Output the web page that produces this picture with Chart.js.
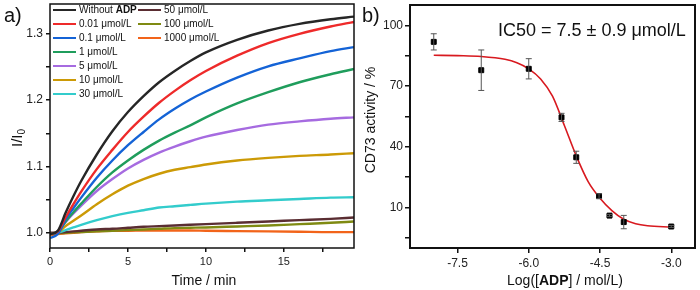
<!DOCTYPE html>
<html>
<head>
<meta charset="utf-8">
<script src="https://cdn.jsdelivr.net/npm/chart.js@4.4.1/dist/chart.umd.min.js"></script>
<style>
  body { margin: 0; background: #fff; }
  #wrap { position: relative; width: 700px; height: 290px; }
  canvas { position: absolute; top: 0; }
</style>
</head>
<body>
<div id="wrap">
  <canvas id="kinChart" width="362" height="290" style="left:0"></canvas>
  <canvas id="icChart" width="338" height="290" style="left:362px"></canvas>
</div>
<script>
// ================= PANEL A DATA (I/I0 vs time) =================
const TIME = [0, 0.5, 1, 1.5, 2, 3, 4, 5, 6, 7, 8, 9, 10, 12, 14, 16, 18, 19.5];

const noADP   = [0.998, 1.003, 1.030, 1.055, 1.078, 1.118, 1.153, 1.182, 1.206, 1.227, 1.244, 1.259, 1.272, 1.291, 1.305, 1.315, 1.322, 1.326];
const adp0_01 = [0.998, 1.002, 1.023, 1.043, 1.062, 1.096, 1.125, 1.152, 1.175, 1.196, 1.214, 1.230, 1.244, 1.267, 1.286, 1.300, 1.311, 1.318];
const adp0_1  = [0.992, 0.998, 1.020, 1.037, 1.053, 1.083, 1.109, 1.132, 1.152, 1.171, 1.187, 1.201, 1.213, 1.234, 1.251, 1.263, 1.274, 1.280];
const adp1    = [0.998, 1.001, 1.017, 1.031, 1.044, 1.069, 1.091, 1.109, 1.125, 1.139, 1.151, 1.162, 1.174, 1.195, 1.212, 1.227, 1.239, 1.247];
const adp5    = [0.998, 1.001, 1.016, 1.029, 1.041, 1.063, 1.081, 1.097, 1.110, 1.121, 1.130, 1.138, 1.145, 1.155, 1.163, 1.168, 1.172, 1.174];
const adp10   = [0.998, 1.000, 1.010, 1.018, 1.026, 1.043, 1.058, 1.071, 1.081, 1.089, 1.095, 1.099, 1.103, 1.109, 1.113, 1.116, 1.118, 1.120];
const adp30   = [0.998, 1.000, 1.004, 1.008, 1.012, 1.019, 1.025, 1.030, 1.034, 1.038, 1.040, 1.042, 1.044, 1.047, 1.049, 1.051, 1.053, 1.0535];
const adp50   = [1.000, 1.000, 1.001, 1.002, 1.003, 1.005, 1.006, 1.0075, 1.009, 1.010, 1.011, 1.012, 1.013, 1.015, 1.017, 1.019, 1.021, 1.023];
const adp100  = [0.998, 0.999, 1.000, 1.0005, 1.001, 1.002, 1.003, 1.004, 1.005, 1.006, 1.007, 1.0075, 1.008, 1.0095, 1.011, 1.013, 1.015, 1.017];
const adp1000 = [0.996, 0.998, 0.999, 1.000, 1.001, 1.002, 1.003, 1.003, 1.0035, 1.0035, 1.0035, 1.0035, 1.003, 1.0025, 1.002, 1.0015, 1.001, 1.001];

const SERIES = [
  { name: "Without", bold: "ADP", data: noADP,   color: "#262626" },
  { name: "0.01 \u03bcmol/L",     data: adp0_01, color: "#ee2a2a" },
  { name: "0.1 \u03bcmol/L",      data: adp0_1,  color: "#1463d6" },
  { name: "1 \u03bcmol/L",        data: adp1,    color: "#1f9d5c" },
  { name: "5 \u03bcmol/L",        data: adp5,    color: "#a66be0" },
  { name: "10 \u03bcmol/L",       data: adp10,   color: "#cc9a06" },
  { name: "30 \u03bcmol/L",       data: adp30,   color: "#33cccc" },
  { name: "50 \u03bcmol/L",       data: adp50,   color: "#5a2d32" },
  { name: "100 \u03bcmol/L",      data: adp100,  color: "#7f8a12" },
  { name: "1000 \u03bcmol/L",     data: adp1000, color: "#f2641a" }
];

const A_YMAJOR = [1.0, 1.1, 1.2, 1.3];
const A_YMINOR = [1.05, 1.15, 1.25];
const A_XMAJOR = [0, 5, 10, 15];
const A_XMINOR = [2.5, 7.5, 12.5, 17.5];

// ================= PANEL B DATA (dose response) =================
const LOG_ADP  = [-8.0, -7.0, -6.0, -5.31, -5.0, -4.52, -4.30, -4.0, -3.0];
const ACTIVITY = [91.8, 77.8, 78.5, 54.5, 34.8, 15.6, 6.0, 2.8, 0.6];
const ACT_ERR  = [4.0, 10.0, 5.0, 2.0, 3.0, 1.2, 0.5, 3.3, 0.5];

const FIT_X = [-8.0, -7.5, -7.0, -6.5, -6.25, -6.0, -5.75, -5.5, -5.25, -5.0, -4.75, -4.5, -4.25, -4.0, -3.75, -3.5, -3.0];
const FIT_Y = [85.2, 85.0, 84.6, 83.2, 81.5, 78.5, 73.5, 65.0, 50.5, 35.5, 22.8, 14.6, 8.5, 4.2, 2.0, 1.0, 0.3];

const B_XTICKS = [-7.5, -6.0, -4.5, -3.0];
const B_YMAJOR = [10, 40, 70, 100];
const B_YMINOR = [-5, 25, 55, 85];

const FONT = "'Liberation Sans', Arial, sans-serif";

// ================= HELPERS =================
function setTicks(list) {
  return scale => { scale.ticks = list.slice().sort((a, b) => a - b).map(v => ({ value: v })); };
}

// fixed axis size, no extra label padding so the plot box sits where we want
function fixSize(dim, px) {
  return s => {
    s[dim] = px;
    s.paddingTop = 0; s.paddingBottom = 0; s.paddingLeft = 0; s.paddingRight = 0;
  };
}

// draw a row of text pieces (some bold / subscript), centred or left aligned
function drawRuns(ctx, runs, x, y, align) {
  let total = 0;
  runs.forEach(r => {
    ctx.font = (r.bold ? "bold " : "") + r.size + "px " + FONT;
    r.w = ctx.measureText(r.text).width;
    total += r.w;
  });
  let cx = align === "center" ? x - total / 2 : x;
  ctx.textAlign = "left";
  ctx.textBaseline = "middle";
  runs.forEach(r => {
    ctx.font = (r.bold ? "bold " : "") + r.size + "px " + FONT;
    ctx.fillText(r.text, cx, y + (r.dy || 0));
    cx += r.w;
  });
}

const frame = {
  id: "frame",
  afterDatasetsDraw(chart, args, opts) {
    const { ctx, chartArea: a } = chart;
    ctx.save();
    ctx.strokeStyle = "#111";
    ctx.lineWidth = opts.width || 1.5;
    ctx.strokeRect(a.left, a.top, a.right - a.left, a.bottom - a.top);
    ctx.restore();
  }
};

// ================= PANEL A =================
const kinText = {
  id: "kinText",
  afterDraw(chart) {
    const ctx = chart.ctx;
    ctx.save();
    ctx.fillStyle = "#111";
    drawRuns(ctx, [{ text: "a)", size: 20 }], 4, 16, "left");
    drawRuns(ctx, [{ text: "Time / min", size: 14 }], 204, 281, "center");
    ctx.translate(18, 138);
    ctx.rotate(-Math.PI / 2);
    drawRuns(ctx, [{ text: "I/I", size: 15 }, { text: "0", size: 10, dy: 4 }], 0, 0, "center");
    ctx.restore();

    // legend, two columns
    ctx.save();
    SERIES.forEach((s, i) => {
      const col = i < 7 ? 0 : 1;
      const row = i < 7 ? i : i - 7;
      const lx = col === 0 ? 53 : 138;
      const y = 10 + row * 14;
      ctx.strokeStyle = s.color;
      ctx.lineWidth = 2;
      ctx.beginPath();
      ctx.moveTo(lx, y);
      ctx.lineTo(lx + 23, y);
      ctx.stroke();
      ctx.fillStyle = "#111";
      const runs = [{ text: s.name + (s.bold ? " " : ""), size: 10 }];
      if (s.bold) runs.push({ text: s.bold, size: 10, bold: true });
      drawRuns(ctx, runs, lx + 26, y, "left");
    });
    ctx.restore();
  }
};

new Chart(document.getElementById("kinChart"), {
  type: "scatter",
  data: {
    datasets: SERIES.map(s => ({
      data: TIME.map((t, i) => ({ x: t, y: s.data[i] })),
      showLine: true,
      borderColor: s.color,
      borderWidth: 2.4,
      pointRadius: 0,
      cubicInterpolationMode: "monotone"
    }))
  },
  options: {
    responsive: false,
    animation: false,
    layout: { padding: { top: 4, right: 8, left: 0, bottom: 0 } },
    plugins: { legend: { display: false }, tooltip: { enabled: false }, frame: { width: 1.5 } },
    scales: {
      x: {
        type: "linear", min: 0, max: 19.5,
        afterBuildTicks: setTicks(A_XMAJOR.concat(A_XMINOR)),
        afterFit: fixSize("height", 42),
        border: { display: false },
        grid: { drawOnChartArea: false, drawTicks: true, tickLength: 4, color: "#111", lineWidth: 1.5 },
        ticks: {
          autoSkip: false, maxRotation: 0, padding: 3, color: "#222",
          font: { family: FONT, size: 11 },
          callback: v => A_XMAJOR.includes(v) ? String(v) : ""
        }
      },
      y: {
        type: "linear", min: 0.977, max: 1.345,
        afterBuildTicks: setTicks(A_YMAJOR.concat(A_YMINOR)),
        afterFit: fixSize("width", 50),
        border: { display: false },
        grid: { drawOnChartArea: false, drawTicks: true, tickLength: 4, color: "#111", lineWidth: 1.5 },
        ticks: {
          autoSkip: false, padding: 3, color: "#222",
          font: { family: FONT, size: 12 },
          callback: v => A_YMAJOR.some(m => Math.abs(m - v) < 1e-6) ? v.toFixed(1) : ""
        }
      }
    }
  },
  plugins: [frame, kinText]
});

// ================= PANEL B =================
const errorBars = {
  id: "errorBars",
  afterDatasetsDraw(chart) {
    const { ctx, scales } = chart;
    ctx.save();
    ctx.strokeStyle = "#555";
    ctx.lineWidth = 1;
    LOG_ADP.forEach((lx, i) => {
      const x = scales.x.getPixelForValue(lx);
      const y1 = scales.y.getPixelForValue(ACTIVITY[i] + ACT_ERR[i]);
      const y2 = scales.y.getPixelForValue(ACTIVITY[i] - ACT_ERR[i]);
      ctx.beginPath();
      ctx.moveTo(x, y1); ctx.lineTo(x, y2);
      ctx.moveTo(x - 3, y1); ctx.lineTo(x + 3, y1);
      ctx.moveTo(x - 3, y2); ctx.lineTo(x + 3, y2);
      ctx.stroke();
    });
    ctx.restore();
  }
};

const icText = {
  id: "icText",
  afterDraw(chart) {
    const ctx = chart.ctx;
    const off = 362;
    ctx.save();
    ctx.fillStyle = "#111";
    drawRuns(ctx, [{ text: "b)", size: 20 }], 362 - off, 16, "left");
    drawRuns(ctx, [{ text: "IC50 = 7.5 \u00b1 0.9 \u03bcmol/L", size: 18 }], 498 - off, 31, "left");
    drawRuns(ctx, [
      { text: "Log([", size: 14 },
      { text: "ADP", size: 14, bold: true },
      { text: "] / mol/L)", size: 14 }
    ], 565 - off, 281, "center");
    ctx.translate(371 - off, 120);
    ctx.rotate(-Math.PI / 2);
    drawRuns(ctx, [{ text: "CD73 activity / %", size: 14 }], 0, 0, "center");
    ctx.restore();
  }
};

new Chart(document.getElementById("icChart"), {
  type: "scatter",
  data: {
    datasets: [
      {
        data: LOG_ADP.map((x, i) => ({ x, y: ACTIVITY[i] })),
        pointStyle: "rect",
        pointRadius: 3.5,
        backgroundColor: "#000",
        borderColor: "#000",
        order: 0
      },
      {
        data: FIT_X.map((x, i) => ({ x, y: FIT_Y[i] })),
        showLine: true,
        borderColor: "#d8191f",
        borderWidth: 1.6,
        pointRadius: 0,
        cubicInterpolationMode: "monotone",
        order: 1
      }
    ]
  },
  options: {
    responsive: false,
    animation: false,
    layout: { padding: { top: 4, right: 3, left: 0, bottom: 0 } },
    plugins: { legend: { display: false }, tooltip: { enabled: false }, frame: { width: 2 } },
    scales: {
      x: {
        type: "linear", min: -8.5, max: -2.5,
        afterBuildTicks: setTicks(B_XTICKS),
        afterFit: fixSize("height", 42),
        border: { display: false },
        grid: { drawOnChartArea: false, drawTicks: true, tickLength: 5, color: "#111", lineWidth: 1.5 },
        ticks: {
          autoSkip: false, maxRotation: 0, padding: 3, color: "#222",
          font: { family: FONT, size: 12 },
          callback: v => v.toFixed(1)
        }
      },
      y: {
        type: "linear", min: -10, max: 110,
        afterBuildTicks: setTicks(B_YMAJOR.concat(B_YMINOR)),
        afterFit: fixSize("width", 48),
        border: { display: false },
        grid: { drawOnChartArea: false, drawTicks: true, tickLength: 5, color: "#111", lineWidth: 1.5 },
        ticks: {
          autoSkip: false, padding: 2, color: "#222",
          font: { family: FONT, size: 12 },
          callback: v => B_YMAJOR.includes(v) ? String(v) : ""
        }
      }
    }
  },
  plugins: [frame, errorBars, icText]
});
</script>
</body>
</html>
